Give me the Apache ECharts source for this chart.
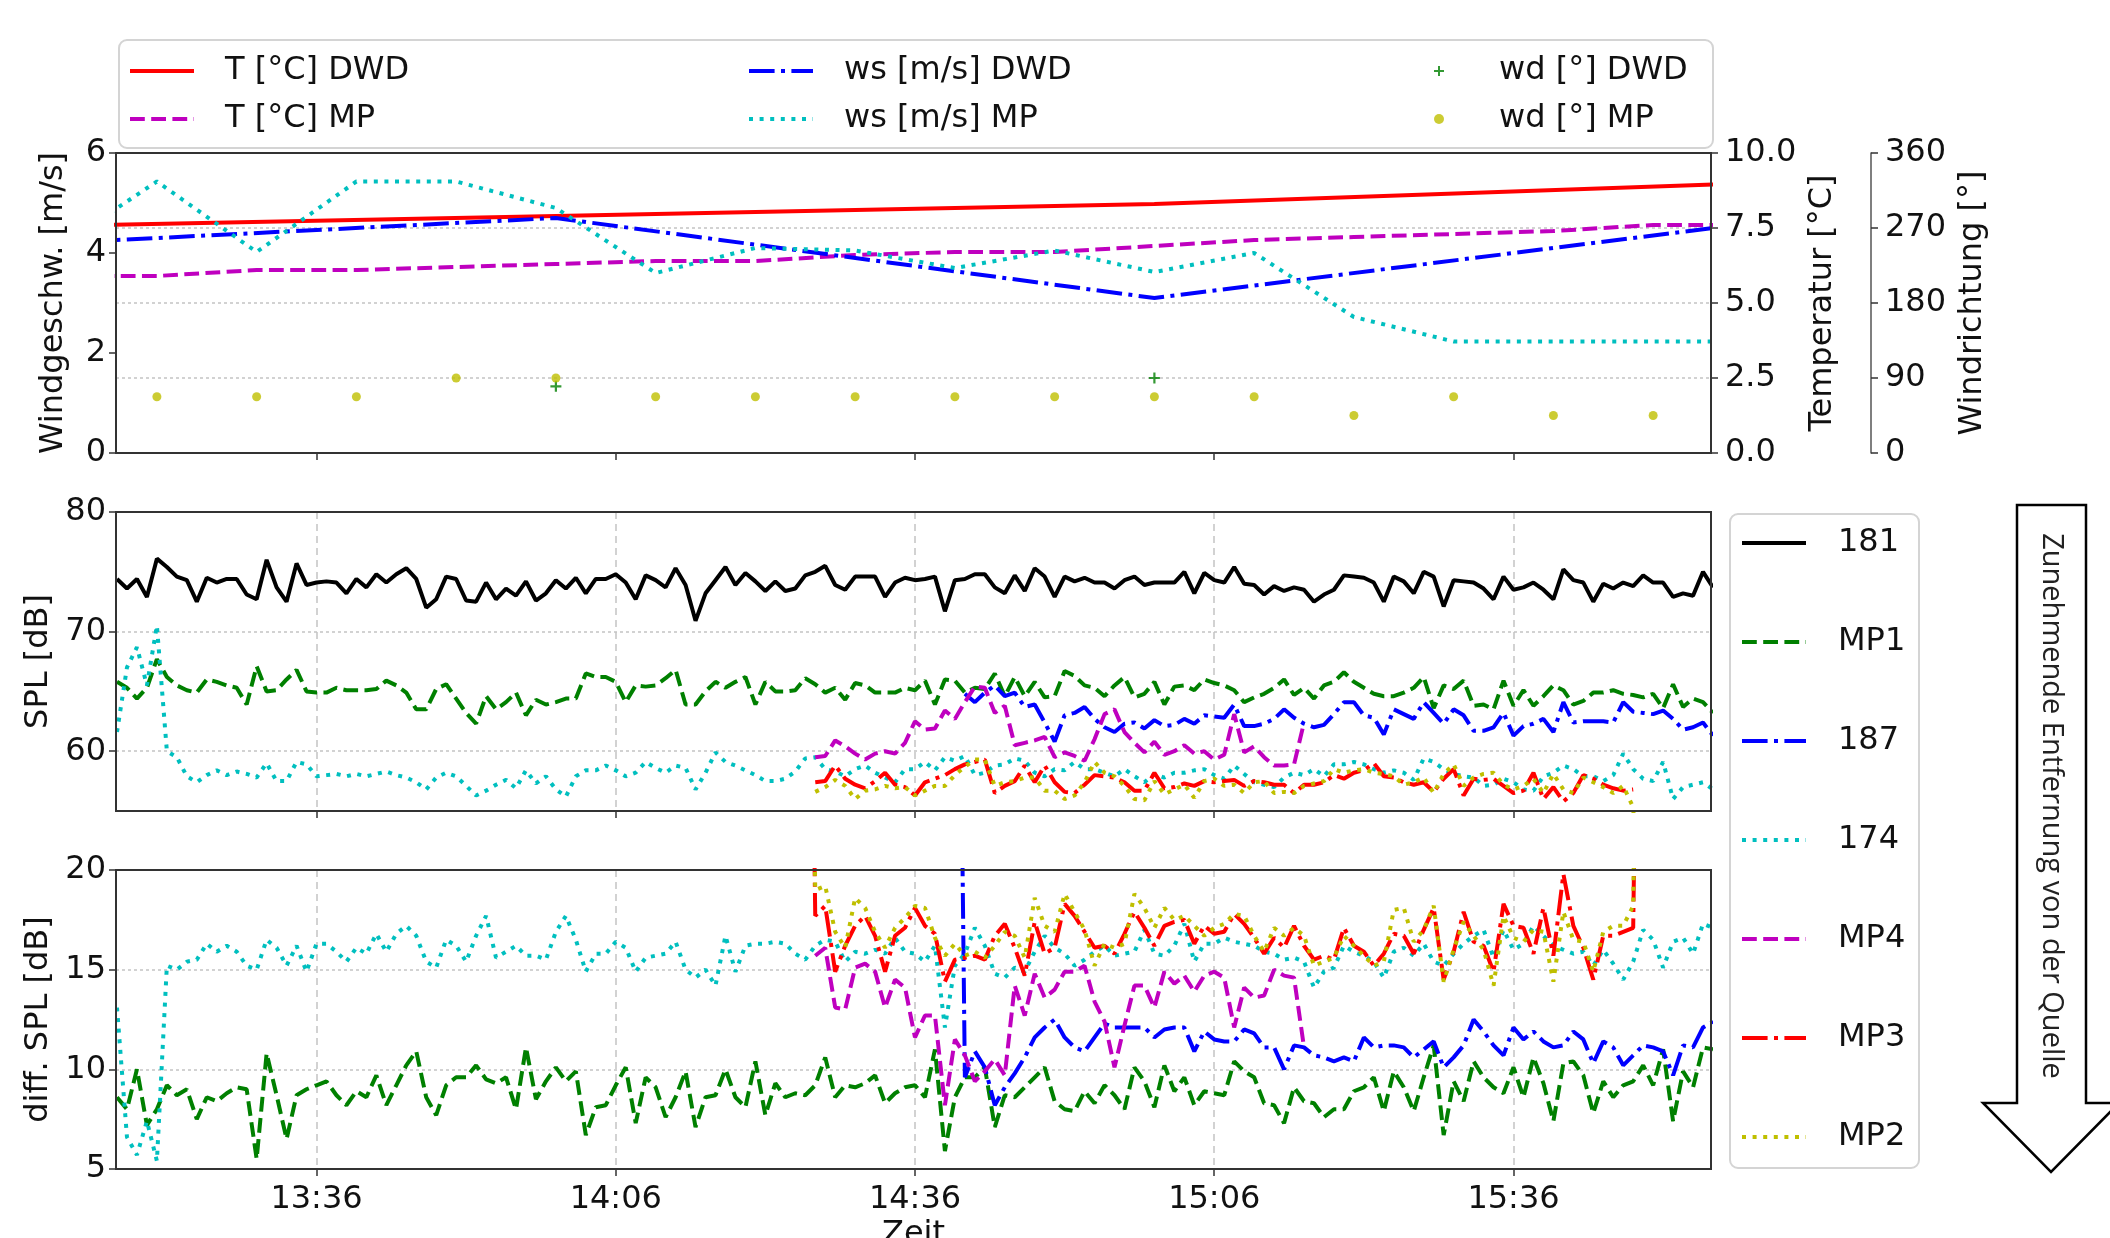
<!DOCTYPE html>
<html><head><meta charset="utf-8">
<script src="https://cdn.jsdelivr.net/npm/echarts@6/dist/echarts.min.js"></script>
<style>html,body{margin:0;padding:0;background:#fff}#c{width:2110px;height:1238px}</style>
</head><body><div id="c"></div><script>
// ---------- tick labels / time helpers ----------
const timeTickLabels = ['13:36','14:06','14:36','15:06','15:36'];
const splTickValues = [60, 70, 80];
const toMin = s => { const p = s.split(':').map(Number); return p[0]*60 + p[1]; };
const fmtTime = v => { const h = Math.floor(v/60), m = Math.round(v - h*60); return h + ':' + String(m).padStart(2,'0'); };
const xTicks = timeTickLabels.map(toMin);

// ---------- top panel: weather ----------
const dwdTimes = ['13:00','14:00','15:00','16:00'];
const tempDWD = [7.5, 7.9, 8.3, 9.0];
const wsDWD = [4.1, 4.7, 3.1, 4.6];
const wdDWDTimes = ['14:00','15:00'];
const wdDWD = [80, 90];
const mpTimes = ['13:10','13:20','13:30','13:40','13:50','14:00','14:10','14:20','14:30','14:40','14:50','15:00','15:10','15:20','15:30','15:40','15:50','16:00'];
const tempMP = [5.9,5.9,6.1,6.1,6.2,6.3,6.4,6.4,6.6,6.7,6.7,6.9,7.1,7.2,7.3,7.4,7.6,7.6];
const wsMP = [4.1,5.43,4.02,5.43,5.43,4.9,3.6,4.1,4.05,3.7,4.05,3.62,4.0,2.72,2.23,2.23,2.23,2.23];
const wdMPTimes = ['13:20','13:30','13:40','13:50','14:00','14:10','14:20','14:30','14:40','14:50','15:00','15:10','15:20','15:30','15:40','15:50'];
const wdMP = [67.5,67.5,67.5,90,90,67.5,67.5,67.5,67.5,67.5,67.5,67.5,45,67.5,45,45];

// ---------- middle panel: SPL [dB], 1-minute values ----------
const spl181Start = '13:16';
const spl181 = [74.4,73.6,74.4,72.9,76.1,75.4,74.6,74.3,72.5,74.5,74.1,74.4,74.4,73.1,72.7,76.0,73.7,72.5,75.7,73.9,74.1,74.2,74.1,73.2,74.4,73.7,74.8,74.1,74.8,75.3,74.4,72.0,72.7,74.6,74.4,72.6,72.5,74.1,72.7,73.6,73.0,74.2,72.6,73.2,74.3,73.6,74.5,73.2,74.4,74.4,74.8,74.1,72.7,74.7,
74.3,73.7,75.3,73.9,70.9,73.2,74.3,75.4,73.9,74.9,74.2,73.4,74.2,73.4,73.6,74.7,75.0,75.5,73.9,73.5,74.6,74.6,74.6,72.9,74.1,74.5,74.3,74.4,74.6,71.7,74.3,74.4,74.8,74.8,73.7,73.2,74.7,73.4,75.3,74.6,72.9,74.6,74.2,74.5,74.1,74.1,73.6,74.3,74.6,73.9,74.1,74.1,
74.1,75.0,73.2,74.9,74.3,74.1,75.4,74.0,73.9,73.1,73.8,73.4,73.7,73.5,72.5,73.1,73.5,74.7,74.6,74.5,74.1,72.5,74.6,74.2,73.2,75.0,74.6,72.1,74.3,74.2,74.1,73.6,72.7,74.6,73.5,73.7,74.1,73.5,72.7,75.2,74.3,74.1,72.5,74.0,73.6,74.1,73.8,74.7,74.1,74.1,72.9,73.2,73.0,75.0,73.7];
const splMP1Start = '13:16';
const splMP1 = [65.8,65.3,64.4,65.3,67.7,66.2,65.5,65.1,64.9,66.0,65.8,65.5,65.3,63.9,67.1,65.0,65.1,66.0,66.8,65.0,64.9,64.9,65.3,65.1,65.1,65.1,65.2,65.9,65.5,64.9,63.5,63.5,65.2,65.6,64.4,63.2,62.3,64.6,63.5,64.1,64.9,63.0,64.3,63.9,64.1,64.4,64.4,66.5,66.2,66.2,65.8,64.1,65.5,65.4,
65.5,66.1,66.8,63.9,63.9,65.0,65.8,65.3,65.8,66.2,63.9,65.8,65.0,65.0,65.1,66.1,65.6,64.9,65.3,64.3,65.7,65.5,64.9,64.9,64.9,65.3,65.1,65.9,63.9,66.0,65.9,64.9,65.3,65.2,66.5,64.6,66.2,64.6,65.8,64.5,64.6,66.7,66.3,65.5,65.3,64.6,65.5,66.2,64.5,64.8,65.8,63.9,
65.4,65.5,65.1,66.0,65.7,65.5,65.1,64.1,64.5,64.8,65.3,66.0,64.7,65.3,64.4,65.5,65.8,66.6,65.8,65.3,64.8,64.6,64.6,64.9,65.3,66.2,63.6,65.5,65.2,65.9,63.8,63.9,63.5,65.9,63.8,65.1,63.8,64.6,65.5,65.1,63.9,64.2,64.9,64.9,65.1,64.8,64.7,64.5,64.8,63.6,65.6,63.7,64.4,64.1,63.2];
const spl174Start = '13:16';
const spl174 = [61.6,67.0,68.7,65.5,70.5,60.0,59.5,57.9,57.4,58.0,58.4,58.0,58.3,58.1,57.8,59.0,57.5,57.5,59.1,58.9,57.9,58.0,58.1,57.9,58.1,57.9,58.1,58.3,58.0,57.8,57.4,56.8,57.8,58.2,57.9,57.1,56.3,56.7,57.2,57.6,56.9,58.4,57.3,57.9,56.8,56.2,57.9,58.4,58.4,58.8,58.4,57.9,58.2,59.1,
58.6,58.2,58.8,58.6,56.8,58.2,59.9,59.1,58.8,58.4,58.0,57.5,57.5,57.7,58.3,59.4,59.5,58.5,58.3,57.9,58.5,58.8,58.2,57.8,57.4,58.5,58.5,59.1,58.4,59.5,59.2,59.6,58.0,58.2,58.8,58.9,59.4,59.2,58.2,57.9,58.5,58.4,59.1,58.5,58.5,58.2,57.9,58.5,57.9,57.4,58.1,57.8,
58.2,58.2,58.4,58.5,58.0,57.7,58.8,58.1,57.4,57.2,57.0,57.8,58.2,58.0,58.5,57.9,58.9,58.9,59.1,58.9,58.5,58.2,58.4,58.2,57.6,59.4,59.1,58.5,58.1,57.9,57.8,57.1,57.2,57.7,57.4,56.8,56.7,57.9,58.2,58.8,58.5,57.9,57.9,57.5,58.0,59.8,58.5,57.7,57.5,59.1,56.0,57.0,57.2,57.4,56.8];
const spl187Start = '14:41';
const spl187 = [64.8,64.1,64.9,65.5,64.6,64.9,63.7,63.9,62.4,60.8,63.0,63.2,63.7,62.7,62.0,61.6,62.3,62.4,61.9,62.6,62.1,62.2,
62.7,62.3,63.0,62.9,62.8,63.9,62.1,62.1,62.3,62.7,63.5,62.8,62.3,62.0,62.2,63.1,64.1,64.1,63.0,62.8,61.4,63.5,63.1,62.7,64.1,63.2,62.3,63.5,63.0,61.7,61.7,62.0,63.2,61.3,62.1,62.3,62.7,61.6,64.1,62.4,62.5,62.5,62.5,62.4,64.1,63.3,63.2,63.1,63.4,62.7,61.8,62.0,62.4,61.3];
const splMP4Start = '14:26';
const splMP4 = [59.5,59.6,60.9,60.4,59.8,59.3,59.8,60.0,59.8,60.7,62.5,61.8,61.9,63.4,62.7,64.1,65.4,65.3,63.2,63.8,60.5,60.7,60.9,61.2,59.5,59.9,59.6,59.2,61.0,63.1,63.5,61.6,60.7,59.9,60.8,59.7,60.0,60.5,59.8,60.0,59.3,59.7,63.1,59.9,60.4,59.5,58.8,58.8,58.9,62.4];
const splMP3Start = '14:26';
const splMP3 = [57.4,57.5,58.8,57.7,57.2,56.9,57.5,58.2,57.2,57.0,56.3,57.4,57.7,58.0,58.5,58.9,59.1,59.3,56.5,57.1,57.5,58.8,57.4,58.8,57.4,56.6,56.5,57.2,58.0,57.9,57.8,57.4,56.7,56.7,58.2,56.9,57.0,57.3,57.1,57.5,57.4,57.5,57.6,57.1,57.5,57.4,57.2,57.2,56.5,57.2,57.2,57.4,58.0,57.7,58.2,58.4,59.0,57.9,57.8,57.4,57.2,57.4,56.6,57.7,58.5,56.3,57.7,57.6,57.7,57.1,56.5,56.7,58.2,56.0,57.0,55.8,56.5,58.0,57.7,57.2,56.9,56.7,56.8];
const splMP2Start = '14:26';
const splMP2 = [56.6,57.0,57.6,57.1,56.0,56.7,56.8,57.1,56.9,57.0,56.3,56.7,57.1,57.1,58.0,58.7,59.3,59.3,57.1,57.4,57.5,57.8,57.8,56.7,56.7,56.0,56.3,57.4,59.1,58.2,57.9,57.1,56.0,55.9,57.5,56.4,56.8,57.2,56.1,57.5,57.7,57.1,57.2,56.5,57.4,57.5,56.5,56.6,56.5,57.1,57.3,57.5,58.5,58.2,58.4,58.5,58.2,58.1,57.9,57.2,57.4,57.8,56.5,58.1,58.9,57.1,57.8,58.1,58.2,57.2,56.8,57.1,57.7,56.5,58.1,56.8,56.5,57.8,57.4,57.0,56.5,57.1,55.3,40];

// ---------- bottom panel: diff. SPL [dB], 1-minute values ----------
const diffMP1Start = '13:16';
const diffMP1 = [8.6,8.0,10.0,7.2,8.0,9.2,8.7,9.0,7.5,8.6,8.4,8.8,9.1,9.0,5.5,10.8,8.7,6.5,8.7,9.0,9.2,9.4,8.7,8.2,8.9,8.6,9.7,8.2,9.2,10.2,10.9,8.6,7.7,9.2,9.6,9.6,10.2,9.5,9.3,9.6,8.0,11.1,8.5,9.4,10.1,9.4,9.9,6.7,8.1,8.2,9.2,10.1,7.3,9.6,
9.1,7.6,8.6,9.9,7.1,8.6,8.7,10.0,8.6,8.1,10.4,7.7,9.3,8.6,8.8,8.7,9.2,10.6,8.6,9.2,9.1,9.3,9.7,8.3,8.8,9.1,9.2,8.6,11.0,5.9,8.6,9.6,9.6,10.1,7.1,8.7,8.6,9.1,9.6,10.1,8.4,8.0,7.9,8.9,8.3,9.2,8.7,8.0,10.1,9.4,8.1,10.2,
8.9,9.6,8.2,8.9,8.8,8.7,10.4,9.9,9.6,8.3,8.2,7.3,9.1,8.4,8.3,7.6,8.0,8.0,8.9,9.1,9.6,7.9,9.9,9.1,7.9,9.6,11.2,6.7,9.4,8.4,10.4,9.6,9.1,8.8,10.1,8.6,10.6,9.3,7.4,10.3,10.4,9.7,7.8,9.4,8.6,9.2,9.4,10.2,9.2,11.0,7.4,9.9,9.1,11.1,11.0];
const diff174Start = '13:16';
const diff174 = [13.1,6.6,5.7,7.4,5.4,15.2,15.0,15.4,15.5,16.3,15.9,16.2,15.9,15.2,15.0,16.5,16.1,15.2,16.2,14.9,16.3,16.3,15.9,15.4,16.1,15.8,16.8,15.9,16.8,17.2,16.7,15.4,15.1,16.5,16.2,15.4,16.7,17.7,15.6,15.9,16.2,15.7,15.7,15.5,16.9,17.7,16.5,14.9,15.8,15.8,16.4,16.1,14.9,15.6,
15.7,15.8,16.4,15.0,14.6,15.0,14.2,16.7,14.9,16.2,16.3,16.3,16.4,16.3,15.8,15.5,16.2,16.5,16.4,15.4,15.9,15.8,16.0,15.8,16.6,15.9,15.8,15.4,16.2,12.1,15.2,15.8,17.1,16.2,14.8,14.6,15.1,14.9,15.9,16.7,16.1,15.8,15.2,15.5,15.9,16.2,15.7,15.8,15.9,17.0,15.8,15.7,
16.2,17.3,15.4,16.3,16.3,16.6,16.4,16.3,16.2,15.9,15.8,15.5,15.6,15.4,14.1,14.9,15.1,16.2,15.9,15.7,15.4,14.6,15.9,16.1,15.7,16.3,15.4,15.2,15.8,16.3,16.7,17.0,15.6,17.0,16.0,16.3,17.2,16.7,16.2,16.0,15.8,15.9,15.2,16.0,15.3,14.5,15.4,17.0,16.5,15.1,16.4,16.6,15.8,17.3,17.1];
const diff187Start = '14:40';
const diff187 = [55,9.6,10.9,10.1,8.2,9.1,9.8,10.6,11.6,12.1,12.5,11.6,11.1,10.9,11.6,12.3,12.1,12.1,12.1,12.1,11.6,12.0,12.1,12.1,10.9,11.9,11.5,11.4,11.4,12.0,11.8,11.1,11.1,10.0,11.2,11.1,10.7,10.6,10.4,10.6,10.4,11.6,11.1,11.2,11.2,11.1,10.6,11.0,11.4,10.1,10.6,11.2,12.5,11.9,11.2,10.7,12.1,11.5,11.9,11.4,11.1,11.2,11.9,11.5,10.3,11.4,11.1,10.2,10.7,11.2,11.1,10.9,9.7,11.2,11.1,12.1,12.4];
const diffMP4Start = '14:26';
const diffMP4 = [15.7,16.1,13.1,13.0,15.1,15.3,14.9,13.1,14.5,14.1,11.6,12.7,12.7,8.2,11.5,10.7,9.4,9.9,10.5,9.7,14.2,12.7,14.8,13.6,14.0,14.9,14.9,15.2,13.4,12.4,10.1,12.2,14.2,14.2,13.1,14.9,14.3,14.7,13.9,14.7,14.9,14.6,12.1,14.1,13.6,13.7,15.0,14.7,14.6,11.1];
const diffMP3Start = '14:25';
const diffMP3 = [55,17.7,18.2,14.9,16.2,17.2,17.7,16.7,14.9,16.7,17.1,18.1,17.2,16.8,14.4,15.5,15.6,15.7,15.5,16.7,17.3,16.1,14.7,17.4,15.8,16.1,18.3,17.7,16.9,16.1,16.2,15.8,16.8,17.9,17.1,16.2,17.2,17.4,17.5,16.3,17.2,16.8,16.9,17.8,17.3,16.6,15.8,16.6,16.1,17.2,16.2,15.5,15.7,15.5,17.1,16.2,15.9,15.2,15.8,16.8,16.7,15.8,17.0,18.1,14.5,15.9,17.9,16.4,16.2,14.9,18.3,17.2,17.1,15.8,18.1,15.7,19.8,17.2,16.1,14.5,16.7,16.7,16.9,17.1,55];
const diffMP2Start = '14:25';
const diffMP2 = [55,19.0,19.2,16.9,16.1,18.6,18.1,16.9,16.1,17.1,17.6,18.2,18.1,16.6,15.7,16.3,15.7,15.9,15.6,16.2,16.9,16.7,15.6,18.6,17.2,16.9,18.8,17.9,17.0,15.2,16.3,16.1,16.3,18.8,18.1,17.1,18.1,17.5,17.7,17.2,16.7,17.1,17.3,17.8,17.7,16.7,15.9,17.1,16.7,17.1,16.7,15.2,15.4,15.6,16.7,16.2,15.7,15.2,15.4,18.0,18.1,16.4,17.0,18.2,14.4,16.0,17.4,16.7,16.0,14.2,17.7,16.6,16.4,17.0,16.9,14.4,17.9,16.5,16.4,14.9,16.9,17.2,17.2,18.2,55];

// ---------- build ----------
const pairs = (times, vals) => vals.map((v, i) => [toMin(times[i]), v]);
const seq = (start, vals) => vals.map((v, i) => [toMin(start) + i, v]);

const C = {red:'#ff0000', mag:'#bf00bf', blue:'#0000ff', cyan:'#00bfbf', green:'#008000', yel:'#bfbf00', black:'#000000'};
const LW = 4;
const DASH = [14.8, 6.4], DASHDOT = [25.6, 6.4, 4, 6.4], DOT = [4, 6.6];
const FONT = 'DejaVu Sans';
const TXT = {fontFamily: FONT, fontSize: 32, color: '#111'};
const X_MIN = toMin('13:16') - 0.1, X_MAX = toMin('15:56') - 0.2;
const GRID_LINE_H = {color:'#c4c4c4', width:1.5, type:[3,3]};
const GRID_LINE_V = {color:'#c4c4c4', width:1.5, type:[7,5]};
const GRIDS = [{top:153, height:300}, {top:512, height:299}, {top:870, height:299}];

function line(name, data, color, dash, xi, yi) {
  return {name, type:'line', data, xAxisIndex:xi, yAxisIndex:yi, symbol:'none', showSymbol:false,
    animation:false, clip:true, lineStyle:{color, width:LW, type: dash || 'solid'}, itemStyle:{color}, emphasis:{disabled:true}};
}
function xAxis(gi, showLabel, showGrid) {
  return {type:'value', gridIndex:gi, min:X_MIN, max:X_MAX,
    axisLine:{show:true, lineStyle:{color:'#333', width:2}},
    axisTick:{show:true, customValues:xTicks, length:7, lineStyle:{color:'#333', width:1.5}},
    axisLabel:{show:showLabel, customValues:xTicks, formatter:fmtTime, margin:15, ...TXT},
    splitLine:{show:showGrid, lineStyle:GRID_LINE_V},
    name: gi === 2 ? 'Zeit' : '', nameLocation:'middle', nameGap:50, nameTextStyle:TXT};
}
const yBase = (gi, pos, name, gap) => ({type:'value', gridIndex:gi, position:pos, name, nameLocation:'middle', nameGap:gap, nameRotate:90,
  nameTextStyle:TXT, axisLine:{show:true, lineStyle:{color:'#333', width:2}},
  axisTick:{show:true, length:7, lineStyle:{color:'#333', width:1.5}}});
const legendText = pad => ({...TXT, lineHeight:38, padding:[0,0,0,pad]});

const option = {
  backgroundColor:'#fff',
  animation:false,
  textStyle:{fontFamily:FONT},
  grid: GRIDS.map(g => ({left:116, top:g.top, width:1595, height:g.height, containLabel:false, outerBoundsMode:'none'})),
  xAxis:[xAxis(0,false,false), xAxis(1,false,true), xAxis(2,true,true)],
  yAxis:[
    Object.assign(yBase(0,'left','Windgeschw. [m/s]',46), {min:0, max:6, interval:2,
      axisLabel:{margin:10, ...TXT}, splitLine:{show:false}}),
    Object.assign(yBase(0,'right','Temperatur [°C]',90), {min:0, max:10, interval:2.5,
      axisLabel:{margin:14, formatter:v => v.toFixed(1), ...TXT}, splitLine:{show:true, lineStyle:GRID_LINE_H}}),
    Object.assign(yBase(0,'right','Windrichtung [°]',81), {min:0, max:360, interval:90, offset:160,
      axisLine:{show:true, lineStyle:{color:'#555', width:1.5}},
      axisLabel:{margin:14, ...TXT}, splitLine:{show:false}}),
    Object.assign(yBase(1,'left','SPL [dB]',61), {min:55, max:80,
      axisTick:{show:true, length:7, customValues:splTickValues, lineStyle:{color:'#333', width:1.5}},
      axisLabel:{margin:10, customValues:splTickValues, ...TXT}, splitLine:{show:true, lineStyle:GRID_LINE_H}}),
    Object.assign(yBase(2,'left','diff. SPL [dB]',61), {min:5, max:20, interval:5,
      axisLabel:{margin:10, ...TXT}, splitLine:{show:true, lineStyle:GRID_LINE_H}})
  ],
  legend:[
    {data:['T [°C] DWD','T [°C] MP'], orient:'vertical', left:128, top:52, padding:0, itemWidth:64, itemHeight:14, itemGap:10,
      selectedMode:false, itemStyle:{opacity:0}, lineStyle:{width:4}, textStyle:legendText(26)},
    {data:['ws [m/s] DWD','ws [m/s] MP'], orient:'vertical', left:747, top:52, padding:0, itemWidth:64, itemHeight:14, itemGap:10,
      selectedMode:false, itemStyle:{opacity:0}, lineStyle:{width:4}, textStyle:legendText(26)},
    {data:['wd [°] DWD','wd [°] MP'], orient:'vertical', left:1434, top:52, padding:0, itemWidth:64, itemHeight:10, itemGap:10,
      selectedMode:false, textStyle:legendText(23)},
    {data:['181','MP1','187','174','MP4','MP3','MP2'], orient:'vertical', left:1740, top:524, padding:0, itemWidth:64, itemHeight:14, itemGap:61,
      selectedMode:false, itemStyle:{opacity:0}, lineStyle:{width:4}, textStyle:legendText(27)}
  ],
  graphic:[
    {type:'rect', left:118, top:39, shape:{width:1594, height:108, r:8}, style:{fill:'#fff', stroke:'#d4d4d4', lineWidth:2}, z:-1},
    {type:'rect', left:1729, top:513, shape:{width:189, height:654, r:8}, style:{fill:'#fff', stroke:'#d4d4d4', lineWidth:2}, z:-1},
    ...GRIDS.map(g => ({type:'rect', shape:{x:116, y:g.top, width:1595, height:g.height}, silent:true,
      style:{fill:'none', stroke:'#333', lineWidth:2}, z:100})),
    {type:'polygon', shape:{points:[[2017,505],[2086,505],[2086,1103],[2119,1103],[2051,1172],[1983,1103],[2017,1103]]},
      style:{fill:'#fff', stroke:'#000', lineWidth:2.5}},
    {type:'text', x:2051, y:806, rotation:-Math.PI/2,
      style:{text:'Zunehmende Entfernung von der Quelle', fontFamily:'Open Sans', fontSize:29, fill:'#222', align:'center', verticalAlign:'middle'}}
  ],
  series:[
    line('T [°C] DWD', pairs(dwdTimes, tempDWD), C.red, null, 0, 1),
    line('T [°C] MP', pairs(mpTimes, tempMP), C.mag, DASH, 0, 1),
    line('ws [m/s] DWD', pairs(dwdTimes, wsDWD), C.blue, DASHDOT, 0, 0),
    line('ws [m/s] MP', pairs(mpTimes, wsMP), C.cyan, DOT, 0, 0),
    {name:'wd [°] DWD', type:'scatter', xAxisIndex:0, yAxisIndex:2, data:pairs(wdDWDTimes, wdDWD),
      symbol:'path://M4,0H6V4H10V6H6V10H4V6H0V4H4Z', symbolSize:11, itemStyle:{color:C.green}, animation:false},
    {name:'wd [°] MP', type:'scatter', xAxisIndex:0, yAxisIndex:2, data:pairs(wdMPTimes, wdMP),
      symbol:'circle', symbolSize:9, itemStyle:{color:C.yel}, animation:false},

    line('181', seq(spl181Start, spl181), C.black, null, 1, 3),
    line('MP1', seq(splMP1Start, splMP1), C.green, DASH, 1, 3),
    line('187', seq(spl187Start, spl187), C.blue, DASHDOT, 1, 3),
    line('174', seq(spl174Start, spl174), C.cyan, DOT, 1, 3),
    line('MP4', seq(splMP4Start, splMP4), C.mag, DASH, 1, 3),
    line('MP3', seq(splMP3Start, splMP3), C.red, DASHDOT, 1, 3),
    line('MP2', seq(splMP2Start, splMP2), C.yel, DOT, 1, 3),

    line('MP1', seq(diffMP1Start, diffMP1), C.green, DASH, 2, 4),
    line('187', seq(diff187Start, diff187), C.blue, DASHDOT, 2, 4),
    line('174', seq(diff174Start, diff174), C.cyan, DOT, 2, 4),
    line('MP4', seq(diffMP4Start, diffMP4), C.mag, DASH, 2, 4),
    line('MP3', seq(diffMP3Start, diffMP3), C.red, DASHDOT, 2, 4),
    line('MP2', seq(diffMP2Start, diffMP2), C.yel, DOT, 2, 4)
  ]
};
const chart = echarts.init(document.getElementById('c'), null, {renderer:'canvas'});
chart.setOption(option);
</script></body></html>
